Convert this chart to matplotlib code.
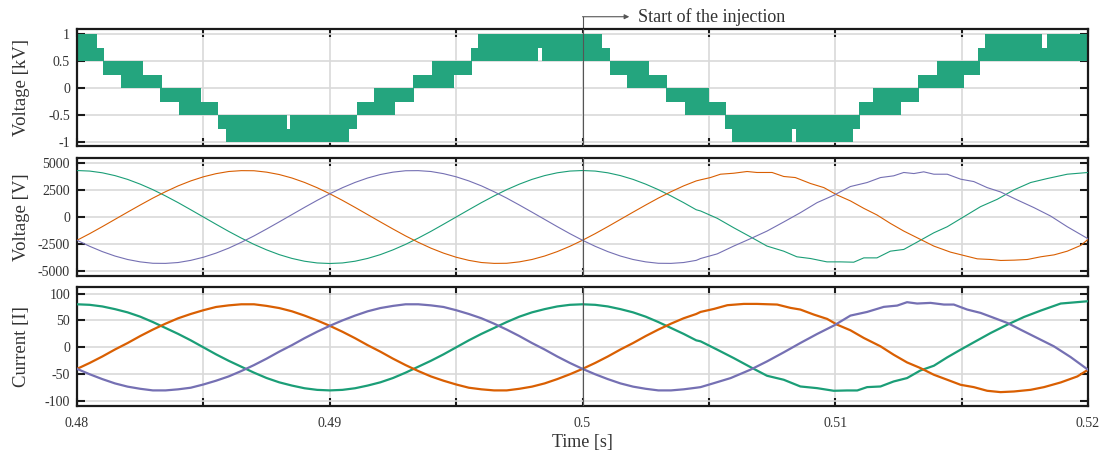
import numpy as np
import matplotlib
matplotlib.use('Agg')
import matplotlib.pyplot as plt

# ═══ Data ═════════════════════════════════════════════════════════════════

# ─── Converter output (upper / lower envelope of the PWM band, kV)
t_up = [0.48, 0.48078, 0.48107, 0.48260, 0.48335, 0.48489, 0.48558, 0.48830,
        0.48843, 0.49106, 0.49176, 0.49331, 0.49406, 0.49558, 0.49588,
        0.50078, 0.50108, 0.50262, 0.50335, 0.50500, 0.50566, 0.51095,
        0.51148, 0.51326, 0.51401, 0.51566, 0.51593, 0.51819, 0.51839, 0.52]
v_up = [1.0, 0.75, 0.5, 0.25, 0, -0.25, -0.5, -0.75, -0.5, -0.25, 0, 0.25,
        0.5, 0.75, 1.0, 0.75, 0.5, 0.25, 0, -0.25, -0.5, -0.25, 0, 0.25, 0.5,
        0.75, 1.0, 0.75, 1.0, 1.0]
t_lo = [0.48, 0.48104, 0.48174, 0.48328, 0.48405, 0.48558, 0.48590, 0.49076,
        0.49106, 0.49257, 0.49333, 0.49491, 0.49561, 0.49822, 0.49840,
        0.50108, 0.50174, 0.50332, 0.50407, 0.50562, 0.50593, 0.50830,
        0.50843, 0.51071, 0.51099, 0.51260, 0.51332, 0.51511, 0.51573, 0.52]
v_lo = [0.5, 0.25, 0, -0.25, -0.5, -0.75, -1.0, -0.75, -0.5, -0.25, 0, 0.25,
        0.5, 0.75, 0.5, 0.25, 0, -0.25, -0.5, -0.75, -1.0, -0.75, -1.0, -0.75,
        -0.5, -0.25, 0, 0.25, 0.5, 0.5]

# ─── Before the injection: samples every 0.5 ms from 0.48 to 0.5045 s
t_pre = np.linspace(0.48, 0.5045, 50)

va_green = [4300, 4250, 4090, 3830, 3480, 3040, 2530, 1950, 1330, 670, 0,
            -670, -1330, -1950, -2530, -3040, -3480, -3830, -4090, -4250,
            -4300, -4250, -4090, -3830, -3480, -3040, -2530, -1950, -1330,
            -670, 0, 670, 1330, 1950, 2530, 3040, 3480, 3830, 4090, 4250,
            4300, 4250, 4090, 3830, 3480, 3040, 2530, 1950, 1330, 670]
va_orange = [-2150, -1540, -890, -220, 450, 1110, 1750, 2340, 2880, 3340,
             3720, 4010, 4210, 4290, 4280, 4150, 3930, 3610, 3200, 2710, 2150,
             1540, 890, 220, -450, -1110, -1750, -2340, -2880, -3340, -3720,
             -4010, -4210, -4290, -4280, -4150, -3930, -3610, -3200, -2710,
             -2150, -1540, -890, -220, 450, 1110, 1750, 2340, 2880, 3340]
va_purple = [-2150, -2710, -3200, -3610, -3930, -4150, -4280, -4290, -4210,
             -4010, -3720, -3340, -2880, -2340, -1750, -1110, -450, 220, 890,
             1540, 2150, 2710, 3200, 3610, 3930, 4150, 4280, 4290, 4210, 4010,
             3720, 3340, 2880, 2340, 1750, 1110, 450, -220, -890, -1540,
             -2150, -2710, -3200, -3610, -3930, -4150, -4280, -4290, -4210,
             -4010]

ia_green = [80, 79, 76, 71, 65, 57, 47, 36, 25, 13, 0, -13, -25, -36, -47,
            -57, -65, -71, -76, -79, -80, -79, -76, -71, -65, -57, -47, -36,
            -25, -13, 0, 13, 25, 36, 47, 57, 65, 71, 76, 79, 80, 79, 76, 71,
            65, 57, 47, 36, 25, 13]
ia_orange = [-40, -29, -17, -4, 8, 21, 33, 44, 54, 62, 69, 75, 78, 80, 80,
             77, 73, 67, 59, 50, 40, 29, 17, 4, -8, -21, -33, -44, -54, -62,
             -69, -75, -78, -80, -80, -77, -73, -67, -59, -50, -40, -29, -17,
             -4, 8, 21, 33, 44, 54, 62]
ia_purple = [-40, -50, -59, -67, -73, -77, -80, -80, -78, -75, -69, -62, -54,
             -44, -33, -21, -8, 4, 17, 29, 40, 50, 59, 67, 73, 77, 80, 80, 78,
             75, 69, 62, 54, 44, 33, 21, 8, -4, -17, -29, -40, -50, -59, -67,
             -73, -77, -80, -80, -78, -75]

# ─── After the injection: voltages [V]
tv_orange = [0.50467, 0.50506, 0.50546, 0.50598, 0.50651, 0.50690, 0.50750,
             0.50796, 0.50842, 0.50902, 0.50955, 0.51007, 0.51060, 0.51113,
             0.51165, 0.51218, 0.51271, 0.51337, 0.51390, 0.51456, 0.51509,
             0.51562, 0.51615, 0.51655, 0.51708, 0.51760, 0.51813, 0.51866,
             0.51918, 0.51971, 0.52]
vv_orange = [3440, 3650, 3960, 4050, 4210, 4120, 4120, 3750, 3650, 3100,
             2720, 2040, 1490, 800, 190, -590, -1300, -2070, -2690, -3250,
             -3560, -3870, -3930, -4020, -3990, -3930, -3680, -3500, -3160,
             -2630, -2070]
tv_purple = [0.50467, 0.50533, 0.50598, 0.50664, 0.50730, 0.50796, 0.50862,
             0.50928, 0.50994, 0.51060, 0.51126, 0.51179, 0.51231, 0.51271,
             0.51311, 0.51350, 0.51390, 0.51443, 0.51496, 0.51548, 0.51601,
             0.51654, 0.51720, 0.51786, 0.51852, 0.51918, 0.52]
vv_purple = [-3840, -3410, -2690, -2010, -1300, -460, 400, 1330, 2010, 2820,
             3190, 3650, 3810, 4120, 4020, 4180, 3960, 3960, 3500, 3280, 2720,
             2320, 1580, 870, 90, -900, -2010]
tv_green = [0.50467, 0.50533, 0.50598, 0.50664, 0.50730, 0.50796, 0.50848,
            0.50902, 0.50967, 0.51020, 0.51073, 0.51113, 0.51165, 0.51218,
            0.51271, 0.51324, 0.51390, 0.51443, 0.51509, 0.51575, 0.51641,
            0.51707, 0.51773, 0.51839, 0.51918, 0.52]
vv_green = [560, -120, -990, -1830, -2690, -3160, -3680, -3840, -4150, -4150,
            -4180, -3780, -3780, -3160, -3000, -2320, -1460, -900, 30, 960,
            1640, 2510, 3190, 3560, 3960, 4120]

# ─── After the injection: currents
ti_orange = [0.50467, 0.50520, 0.50573, 0.50638, 0.50690, 0.50770, 0.50823,
             0.50862, 0.50915, 0.50968, 0.51007, 0.51060, 0.51113, 0.51179,
             0.51231, 0.51284, 0.51337, 0.51390, 0.51443, 0.51496, 0.51548,
             0.51601, 0.51654, 0.51707, 0.51773, 0.51826, 0.51892, 0.51958,
             0.52]
ii_orange = [65.8, 71.4, 78.3, 80.7, 80.7, 79.5, 73.3, 70.2, 60.9, 52.8,
             42.2, 31.7, 17.4, 1.9, -13.7, -28, -38.5, -50.9, -60.2, -69.6,
             -73.9, -80.7, -83.2, -82, -78.9, -73.9, -65.2, -54, -41.6]
ti_purple = [0.50467, 0.50520, 0.50586, 0.50664, 0.50730, 0.50796, 0.50862,
             0.50928, 0.50994, 0.51060, 0.51126, 0.51192, 0.51245, 0.51284,
             0.51324, 0.51377, 0.51430, 0.51469, 0.51522, 0.51575, 0.51628,
             0.51681, 0.51733, 0.51799, 0.51865, 0.51931, 0.52]
ii_purple = [-73.9, -66.5, -57.1, -41.6, -26.1, -9.3, 8.1, 24.8, 40.4, 59,
             65.8, 75.2, 77.6, 83.9, 81.4, 82.6, 79.5, 79.5, 70.2, 64, 54.7,
             45.3, 32.9, 17.4, 1.9, -18, -41.6]
ti_green = [0.50467, 0.50533, 0.50598, 0.50664, 0.50730, 0.50796, 0.50862,
            0.50928, 0.50994, 0.51047, 0.51087, 0.51126, 0.51179, 0.51231,
            0.51284, 0.51337, 0.51390, 0.51443, 0.51496, 0.51548, 0.51615,
            0.51681, 0.51747, 0.51813, 0.51892, 0.52]
ii_green = [11.2, -4.3, -19.9, -36.6, -52.8, -60.2, -72.7, -75.8, -80.7,
            -80.1, -80.1, -73.9, -72.7, -63.4, -57.1, -42.9, -34.2, -18.6,
            -4.3, 9.3, 26.7, 42.2, 56.5, 68.3, 81.4, 85.7]

# ═══ Figure ═══════════════════════════════════════════════════════════════

plt.rcParams['font.family'] = ['Liberation Serif', 'DejaVu Serif']
plt.rcParams['axes.unicode_minus'] = False

c_green, c_orange, c_purple = '#1b9e77', '#d95f02', '#7570b3'
txt = '#333333'

fig = plt.figure(figsize=(10.99, 4.54), dpi=100)
L, W = 0.0701, 0.9199
ax1 = fig.add_axes([L, 0.6784, W, 0.2577])
ax2 = fig.add_axes([L, 0.392, W, 0.260])
ax3 = fig.add_axes([L, 0.1057, W, 0.262])

# ─── Top: converter voltage
tt = np.union1d(t_up, t_lo)
up = np.array(v_up)[np.searchsorted(t_up, tt, side='right') - 1]
lo = np.array(v_lo)[np.searchsorted(t_lo, tt, side='right') - 1]
ax1.fill_between(tt, lo, up, step='post', color='#24a57e', lw=0, zorder=2)

# ─── Middle: voltages
for va, tv, vv, c in [(va_green, tv_green, vv_green, c_green),
                      (va_orange, tv_orange, vv_orange, c_orange),
                      (va_purple, tv_purple, vv_purple, c_purple)]:
  ax2.plot(np.r_[t_pre, tv], np.r_[va, vv], color=c, lw=0.8, zorder=3)

# ─── Bottom: currents
for ia, ti, ii, c in [(ia_green, ti_green, ii_green, c_green),
                      (ia_orange, ti_orange, ii_orange, c_orange),
                      (ia_purple, ti_purple, ii_purple, c_purple)]:
  ax3.plot(np.r_[t_pre, ti], np.r_[ia, ii], color=c, lw=1.6, zorder=3)

# ─── Plot options
yt = [[-1, -0.5, 0, 0.5, 1], [-5000, -2500, 0, 2500, 5000],
      [-100, -50, 0, 50, 100]]
yl = [(-1.07, 1.10), (-5460, 5460), (-109, 112)]
lab = ['Voltage [kV]', 'Voltage [V]', 'Current [I]']

for ax, t, l, s in zip([ax1, ax2, ax3], yt, yl, lab):
  ax.set_xlim(0.48, 0.52)
  ax.set_ylim(*l)
  ax.set_yticks(t)
  ax.set_yticklabels([f'{v:g}' for v in t])
  ax.set_xticks([0.48, 0.49, 0.50, 0.51, 0.52])
  ax.set_xticks([0.485, 0.495, 0.505, 0.515], minor=True)
  ax.grid(True, which='both', color='#d9d9d9', lw=1.2, zorder=0)
  ax.set_axisbelow(True)
  ax.tick_params(which='both', direction='in', length=6, width=1.5,
                 top=True, right=True, color='#1a1a1a',
                 labelsize=10, labelcolor=txt, pad=5)
  for sp in ax.spines.values():
    sp.set_linewidth(1.6)
    sp.set_color('#1a1a1a')
  ax.set_ylabel(s, fontsize=13.5, color=txt)
  ax.axvline(0.5, color='#555555', lw=0.8, zorder=4)
  if ax is not ax3:
    ax.tick_params(labelbottom=False)
  ax.yaxis.set_label_coords(-0.047, 0.5)

ax1.set_yticklabels(['-1', '-0.5', '0', '0.5', '1'])
ax3.set_xticklabels(['0.48', '0.49', '0.5', '0.51', '0.52'])
ax3.tick_params(axis='x', pad=8)
ax3.set_xlabel('Time [s]', fontsize=13, color=txt, labelpad=3)

# ─── Injection marker
ax1.plot([0.5, 0.5], [1.0, 1.105], transform=ax1.get_xaxis_transform(),
         color='#555555', lw=0.8, clip_on=False)
ax1.annotate('', xy=(0.50185, 1.105), xytext=(0.5, 1.105),
             xycoords=ax1.get_xaxis_transform(),
             textcoords=ax1.get_xaxis_transform(),
             arrowprops=dict(arrowstyle='-|>', color='#555555', lw=0.8,
                             mutation_scale=7, shrinkA=0, shrinkB=0))
ax1.text(0.50218, 1.105, 'Start of the injection', fontsize=13,
         color=txt, va='center', ha='left',
         transform=ax1.get_xaxis_transform())

fig.savefig('out.png', dpi=100)
